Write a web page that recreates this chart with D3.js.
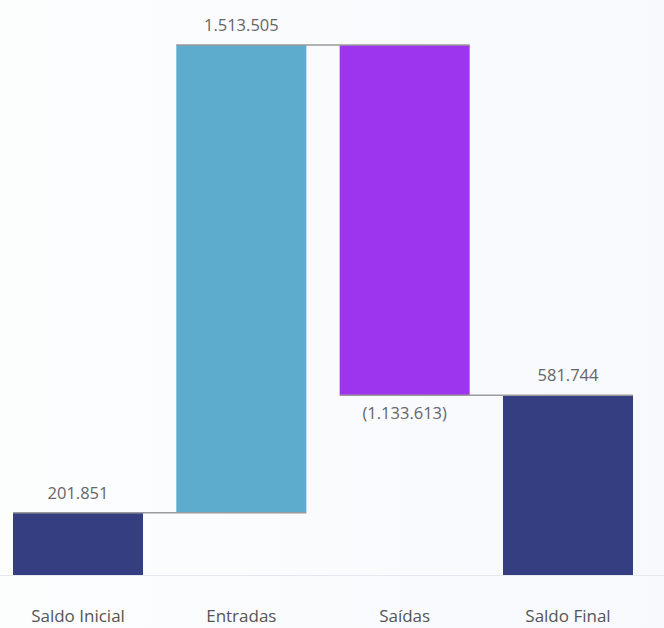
<!DOCTYPE html>
<html>
<head>
<meta charset="utf-8">
<script src="https://cdn.jsdelivr.net/npm/d3@7"></script>
<style>
html,body{margin:0;padding:0;}
body{width:664px;height:628px;overflow:hidden;}
svg{display:block;}
</style>
</head>
<body>
<svg id="chart" width="664" height="628"></svg>
<script>
const categories = ["Saldo Inicial", "Entradas", "Saídas", "Saldo Final"];
const values = [201851, 1513505, -1133613, 581744];
const kinds = ["total", "delta", "delta", "total"];
const valueLabels = ["201.851", "1.513.505", "(1.133.613)", "581.744"];
const colors = ["#343E80", "#5DABCD", "#9D35EE", "#343E80"];

const W = 664, H = 628;
const svg = d3.select("#chart");

const defs = svg.append("defs");
const grad = defs.append("linearGradient").attr("id", "bg").attr("x1", "0").attr("x2", "1").attr("y1", "0").attr("y2", "0");
grad.append("stop").attr("offset", "0%").attr("stop-color", "#fcfdfd");
grad.append("stop").attr("offset", "100%").attr("stop-color", "#f8f9fd");
svg.append("rect").attr("width", W).attr("height", H).attr("fill", "url(#bg)");

let running = 0;
const rows = categories.map((c, i) => {
  let y0, y1;
  if (kinds[i] === "total") { y0 = 0; y1 = values[i]; running = values[i]; }
  else { y0 = running; y1 = running + values[i]; running = y1; }
  return { cat: c, v: values[i], y0, y1, label: valueLabels[i], color: colors[i], end: y1 };
});

const x = d3.scaleBand().domain(categories).range([13, 633]).paddingInner(0.204).paddingOuter(0);
const maxV = d3.max(rows, d => Math.max(d.y0, d.y1));
const y = d3.scaleLinear().domain([0, maxV]).range([575, 45]);

svg.append("line").attr("x1", 0).attr("x2", W).attr("y1", y(0) + 0.5).attr("y2", y(0) + 0.5)
  .attr("stroke", "#e6e8ef").attr("stroke-width", 1);

svg.selectAll("rect.bar").data(rows).join("rect").attr("class", "bar")
  .attr("x", d => x(d.cat)).attr("width", x.bandwidth())
  .attr("y", d => y(Math.max(d.y0, d.y1)))
  .attr("height", d => Math.abs(y(d.y0) - y(d.y1)))
  .attr("fill", d => d.color);

for (let i = 0; i < rows.length - 1; i++) {
  const yy = y(rows[i].end);
  svg.append("line")
    .attr("x1", x(rows[i].cat)).attr("x2", x(rows[i + 1].cat) + x.bandwidth())
    .attr("y1", yy).attr("y2", yy)
    .attr("stroke", "#9a9a9a").attr("stroke-width", 1.5);
}

const font = "'Open Sans', 'Noto Sans', sans-serif";

svg.selectAll("text.val").data(rows).join("text").attr("class", "val")
  .attr("x", d => x(d.cat) + x.bandwidth() / 2)
  .attr("y", d => d.v >= 0 ? y(Math.max(d.y0, d.y1)) - 14 : y(Math.min(d.y0, d.y1)) + 24)
  .attr("text-anchor", "middle")
  .attr("font-family", font).attr("font-size", 16.5).attr("fill", "#666")
  .text(d => d.label);

svg.selectAll("text.cat").data(rows).join("text").attr("class", "cat")
  .attr("x", d => x(d.cat) + x.bandwidth() / 2)
  .attr("y", 622)
  .attr("text-anchor", "middle")
  .attr("font-family", font).attr("font-size", 17).attr("fill", "#555")
  .text(d => d.cat);
</script>
</body>
</html>
